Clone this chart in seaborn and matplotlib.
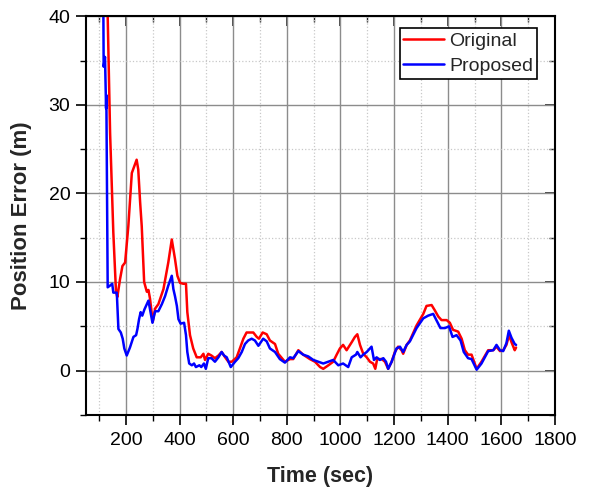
import numpy as np
import pandas as pd
import matplotlib
matplotlib.use("Agg")
import matplotlib.pyplot as plt
import seaborn as sns
from matplotlib.ticker import MultipleLocator

# values
orig_t = [125, 132, 141, 153, 163, 168, 178, 187, 197, 209, 222, 240, 246, 253, 259,
          268, 278, 284, 290, 300, 309, 321, 340, 358, 371, 383, 392, 402, 414, 424,
          429, 439, 451, 464, 479, 489, 495, 507, 519, 532, 545, 557, 570, 582, 595,
          613, 625, 638, 650, 663, 675, 688, 696, 710, 725, 737, 756, 768, 793, 812,
          824, 843, 861, 886, 905, 924, 936, 955, 973, 986, 998, 1010, 1023, 1042, 1054,
          1063, 1073, 1085, 1098, 1110, 1122, 1130, 1137, 1154, 1166, 1178, 1191, 1203, 1215, 1228,
          1234, 1247, 1259, 1284, 1309, 1321, 1340, 1352, 1365, 1377, 1396, 1408, 1420, 1439, 1452,
          1464, 1476, 1489, 1508, 1526, 1551, 1570, 1582, 1595, 1607, 1619, 1629, 1638, 1650, 1655]
orig_err = [55.0, 40.0, 26.8, 15.6, 8.9, 8.3, 10.3, 11.8, 12.2, 16.3, 22.3, 23.8, 22.7, 19.0, 16.3,
            10.0, 8.9, 9.1, 8.1, 5.5, 7.0, 7.5, 9.2, 12.2, 14.8, 12.6, 10.7, 9.9, 9.8, 9.8,
            6.6, 4.0, 2.5, 1.5, 1.5, 1.9, 1.2, 1.9, 1.7, 1.4, 1.7, 2.1, 1.5, 1.0, 1.0,
            1.5, 2.5, 3.6, 4.3, 4.3, 4.3, 3.8, 3.6, 4.3, 4.1, 3.4, 3.0, 1.9, 1.0, 1.3,
            1.3, 2.3, 1.8, 1.3, 1.0, 0.4, 0.2, 0.6, 1.0, 1.8, 2.5, 2.9, 2.3, 3.2, 3.8,
            4.1, 2.9, 1.9, 1.5, 1.0, 0.8, 0.2, 1.3, 1.3, 1.0, 0.2, 1.0, 2.1, 2.7, 2.3,
            1.9, 2.9, 3.4, 5.1, 6.4, 7.3, 7.4, 6.8, 6.1, 5.7, 5.7, 5.4, 4.6, 4.4, 3.6,
            2.3, 1.8, 1.8, 0.2, 1.0, 2.3, 2.3, 2.7, 2.2, 2.3, 2.9, 4.0, 3.2, 2.3, 2.6]

prop_t = [110, 116, 117, 122, 126, 127, 132, 141, 149, 153, 166, 172, 181, 188, 194,
          203, 215, 228, 238, 243, 249, 255, 261, 269, 278, 284, 290, 299, 309, 321,
          334, 346, 358, 371, 377, 383, 390, 396, 404, 417, 424, 429, 436, 446, 454,
          461, 474, 481, 491, 498, 507, 519, 532, 545, 557, 566, 576, 591, 607, 619,
          632, 644, 656, 669, 681, 694, 712, 725, 737, 756, 774, 793, 812, 824, 843,
          861, 880, 899, 917, 936, 955, 973, 992, 1010, 1029, 1042, 1058, 1063, 1075, 1085,
          1098, 1110, 1116, 1125, 1135, 1147, 1160, 1170, 1178, 1191, 1209, 1222, 1234, 1247, 1259,
          1284, 1309, 1327, 1346, 1358, 1373, 1390, 1405, 1418, 1433, 1448, 1460, 1476, 1489, 1508,
          1526, 1551, 1570, 1582, 1595, 1607, 1619, 1628, 1638, 1650, 1655]
prop_err = [50.0, 40.0, 34.3, 35.4, 29.6, 31.1, 9.4, 9.6, 9.8, 8.8, 8.8, 4.7, 4.3, 3.6, 2.5,
            1.7, 2.6, 3.8, 4.0, 4.7, 5.8, 6.6, 6.2, 6.9, 7.5, 7.9, 6.9, 5.4, 6.7, 6.7,
            7.5, 8.4, 9.6, 10.7, 9.2, 8.4, 7.3, 5.8, 5.3, 5.4, 4.0, 2.1, 0.8, 0.6, 0.8,
            0.4, 0.6, 0.4, 0.8, 0.2, 1.4, 1.4, 1.0, 1.5, 2.1, 1.7, 1.5, 0.4, 1.0, 1.4,
            2.1, 3.0, 3.4, 3.6, 3.4, 2.8, 3.6, 3.3, 2.5, 2.1, 1.3, 0.9, 1.5, 1.4, 2.2,
            1.8, 1.6, 1.2, 1.0, 0.8, 1.0, 1.2, 0.6, 0.8, 0.4, 1.5, 1.8, 2.1, 1.5, 1.8,
            2.1, 2.5, 2.7, 1.2, 1.5, 1.2, 1.4, 1.0, 0.2, 1.0, 2.5, 2.7, 2.1, 2.9, 3.3,
            4.8, 5.9, 6.2, 6.4, 5.7, 4.8, 4.8, 5.0, 3.8, 4.0, 3.4, 2.1, 1.4, 1.3, 0.1,
            0.8, 2.2, 2.3, 2.9, 2.3, 2.2, 3.1, 4.5, 3.7, 3.0, 2.9]

df = pd.concat([
    pd.DataFrame({"t": orig_t, "err": orig_err, "method": "Original"}),
    pd.DataFrame({"t": prop_t, "err": prop_err, "method": "Proposed"}),
])

sns.set_theme(style="white")
plt.rcParams["font.family"] = ["Liberation Sans", "DejaVu Sans"]

fig = plt.figure(figsize=(5.91, 4.91), dpi=100)
ax = fig.add_axes([0.145, 0.155, 0.794, 0.812])

sns.lineplot(data=df, x="t", y="err", hue="method",
             palette={"Original": "#ff0000", "Proposed": "#0000ff"},
             linewidth=1.8, sort=False, estimator=None, ax=ax)

ax.set_xlim(50, 1800)
ax.set_ylim(-5, 40)
ax.xaxis.set_major_locator(MultipleLocator(200))
ax.xaxis.set_minor_locator(MultipleLocator(100))
ax.yaxis.set_major_locator(MultipleLocator(10))
ax.yaxis.set_minor_locator(MultipleLocator(5))

ax.grid(which="major", color="#8c8c8c", linestyle="-", linewidth=1.0)
ax.grid(which="minor", color="#c8c8c8", linestyle=":", linewidth=0.9)
ax.set_axisbelow(True)

for s in ax.spines.values():
    s.set_color("black")
    s.set_linewidth(1.5)

ax.tick_params(which="both", bottom=True, left=True, top=False, right=False,
               direction="out", colors="black", labelsize=14)
ax.tick_params(which="major", length=7.5, width=1.2)
ax.tick_params(which="minor", length=4.5, width=1.0)
ax.tick_params(axis="x", which="major", pad=5)
sec_x = ax.secondary_xaxis("top")
sec_x.xaxis.set_major_locator(MultipleLocator(200))
sec_x.xaxis.set_minor_locator(MultipleLocator(100))
sec_x.tick_params(which="both", direction="in", labeltop=False)
sec_x.tick_params(which="major", length=7, width=1.2)
sec_x.tick_params(which="minor", length=4, width=1.0)
sec_y = ax.secondary_yaxis("right")
sec_y.yaxis.set_major_locator(MultipleLocator(10))
sec_y.yaxis.set_minor_locator(MultipleLocator(5))
sec_y.tick_params(which="both", direction="in", labelright=False)
sec_y.tick_params(which="major", length=7, width=1.2)
sec_y.tick_params(which="minor", length=4, width=1.0)

ax.set_xlabel("Time (sec)", fontsize=15.5, fontweight="bold", labelpad=12)
ax.set_ylabel("Position Error (m)", fontsize=16, fontweight="bold", labelpad=12)

leg = ax.legend(loc="upper right", bbox_to_anchor=(0.9617, 0.970), fontsize=14,
                frameon=True, fancybox=False, framealpha=1, edgecolor="black",
                handlelength=2.1, handletextpad=0.25, borderpad=0.2,
                labelspacing=0.4, borderaxespad=0.0)
leg.get_frame().set_linewidth(1.2)
leg.set_title(None)

fig.savefig("out.png", dpi=100)
